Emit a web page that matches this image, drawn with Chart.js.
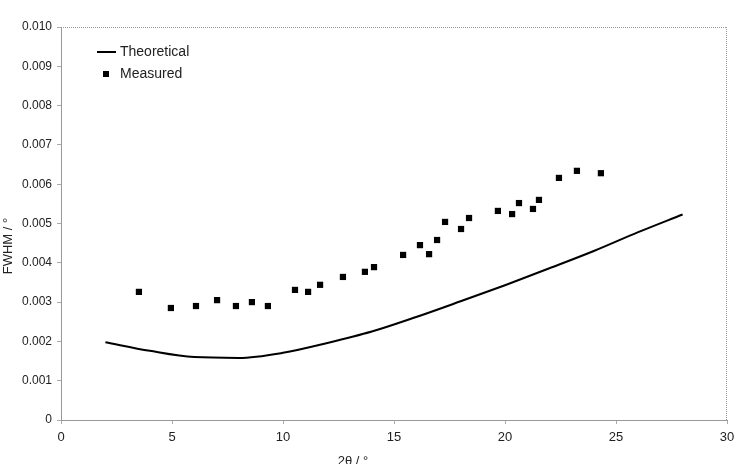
<!DOCTYPE html>
<html>
<head>
<meta charset="utf-8">
<script src="https://cdn.jsdelivr.net/npm/chart.js@4.4.0/dist/chart.umd.min.js"></script>
<style>
  html, body { margin: 0; padding: 0; background: #fff; }
  #wrap { width: 734px; height: 464px; position: relative; }
</style>
</head>
<body>
<div id="wrap"><canvas id="fwhmChart"></canvas></div>
<script>
// theoretical curve
const theoX = [2, 4, 6, 8, 10, 12, 14, 16, 18, 20, 22, 24, 26, 28];
const theoY = [0.00198, 0.00176, 0.00160, 0.00158, 0.00171, 0.00196, 0.00225, 0.00262, 0.00302, 0.00343, 0.00386, 0.00430, 0.00478, 0.00523];

// measured points
const measX = [3.51, 4.95, 6.08, 7.03, 7.88, 8.60, 9.32, 10.54, 11.13, 11.67, 12.70, 13.69, 14.10, 15.41, 16.17, 16.58, 16.94, 17.30, 18.02, 18.38, 19.68, 20.32, 20.63, 21.26, 21.53, 22.43, 23.24, 24.32];
const measY = [0.00326, 0.00285, 0.00290, 0.00305, 0.00290, 0.00300, 0.00290, 0.00331, 0.00326, 0.00344, 0.00364, 0.00377, 0.00389, 0.00420, 0.00445, 0.00422, 0.00458, 0.00504, 0.00486, 0.00514, 0.00532, 0.00524, 0.00552, 0.00537, 0.00560, 0.00616, 0.00634, 0.00628];

const xTitle = "2θ / °";
const yTitle = "FWHM / °";

const FONT = "'Liberation Sans', Arial, sans-serif";

// dotted frame, axis titles and legend drawn on top
const extras = {
    id: "extras",
    beforeDatasetsDraw(chart) {
        const { ctx, chartArea: a } = chart;
        ctx.save();
        ctx.strokeStyle = "#999";
        ctx.lineWidth = 1;
        ctx.setLineDash([1, 1]);
        ctx.beginPath();
        ctx.moveTo(a.left, a.top + 0.5);
        ctx.lineTo(a.right, a.top + 0.5);
        ctx.moveTo(a.right - 0.5, a.top);
        ctx.lineTo(a.right - 0.5, a.bottom);
        ctx.stroke();
        ctx.restore();
    },
    afterDraw(chart) {
        const { ctx } = chart;
        ctx.save();
        ctx.fillStyle = "#222";
        ctx.font = "13px " + FONT;
        ctx.textAlign = "center";
        ctx.textBaseline = "middle";
        ctx.fillText(xTitle, 353, 461);
        ctx.translate(8, 246);
        ctx.rotate(-Math.PI / 2);
        ctx.fillText(yTitle, 0, 0);
        ctx.restore();

        // legend
        const ds = chart.data.datasets;
        ctx.save();
        ctx.font = "14px " + FONT;
        ctx.fillStyle = "#222";
        ctx.textAlign = "left";
        ctx.textBaseline = "middle";
        ctx.strokeStyle = "#000";
        ctx.lineWidth = 2;
        ctx.beginPath();
        ctx.moveTo(97, 52);
        ctx.lineTo(116, 52);
        ctx.stroke();
        ctx.fillText(ds[0].label, 120, 52);
        ctx.fillStyle = "#000";
        ctx.fillRect(103, 71, 6, 6);
        ctx.fillStyle = "#222";
        ctx.fillText(ds[1].label, 120, 74);
        ctx.restore();
    },
};

new Chart(document.getElementById("fwhmChart"), {
    type: "scatter",
    data: {
        datasets: [
            {
                label: "Theoretical",
                type: "line",
                data: theoX.map((x, i) => ({ x: x, y: theoY[i] })),
                borderColor: "#000",
                borderWidth: 2,
                pointRadius: 0,
                tension: 0.4,
                cubicInterpolationMode: "monotone",
                fill: false,
            },
            {
                label: "Measured",
                data: measX.map((x, i) => ({ x: x, y: measY[i] })),
                pointStyle: "rect",
                pointRadius: 4.4,
                pointBorderWidth: 0,
                backgroundColor: "#000",
                borderColor: "#000",
            },
        ],
    },
    options: {
        responsive: true,
        maintainAspectRatio: false,
        animation: false,
        layout: { padding: { top: 27, right: 7, left: 0, bottom: 0 } },
        plugins: {
            legend: { display: false },
            tooltip: { enabled: false },
        },
        scales: {
            x: {
                type: "linear",
                min: 0,
                max: 30,
                afterFit: (s) => {
                    s.height = 44;
                    s.paddingRight = 0;
                    s.paddingLeft = 0;
                },
                ticks: {
                    stepSize: 5,
                    color: "#222",
                    font: { family: FONT, size: 13 },
                    padding: 6,
                    maxRotation: 0,
                },
                grid: { drawOnChartArea: false, drawTicks: true, tickLength: 4, color: "#aaa" },
                border: { display: true, color: "#999", dash: [1, 1] },
            },
            y: {
                min: 0,
                max: 0.01,
                afterFit: (s) => {
                    s.width = 61;
                    s.paddingTop = 0;
                    s.paddingBottom = 0;
                },
                ticks: {
                    stepSize: 0.001,
                    color: "#222",
                    font: { family: FONT, size: 12 },
                    padding: 5,
                    callback: (v) => (v === 0 ? "0" : v.toFixed(3)),
                },
                grid: { drawOnChartArea: false, drawTicks: true, tickLength: 4, color: "#aaa" },
                border: { display: true, color: "#999", dash: [1, 1] },
            },
        },
    },
    plugins: [extras],
});
</script>
</body>
</html>
